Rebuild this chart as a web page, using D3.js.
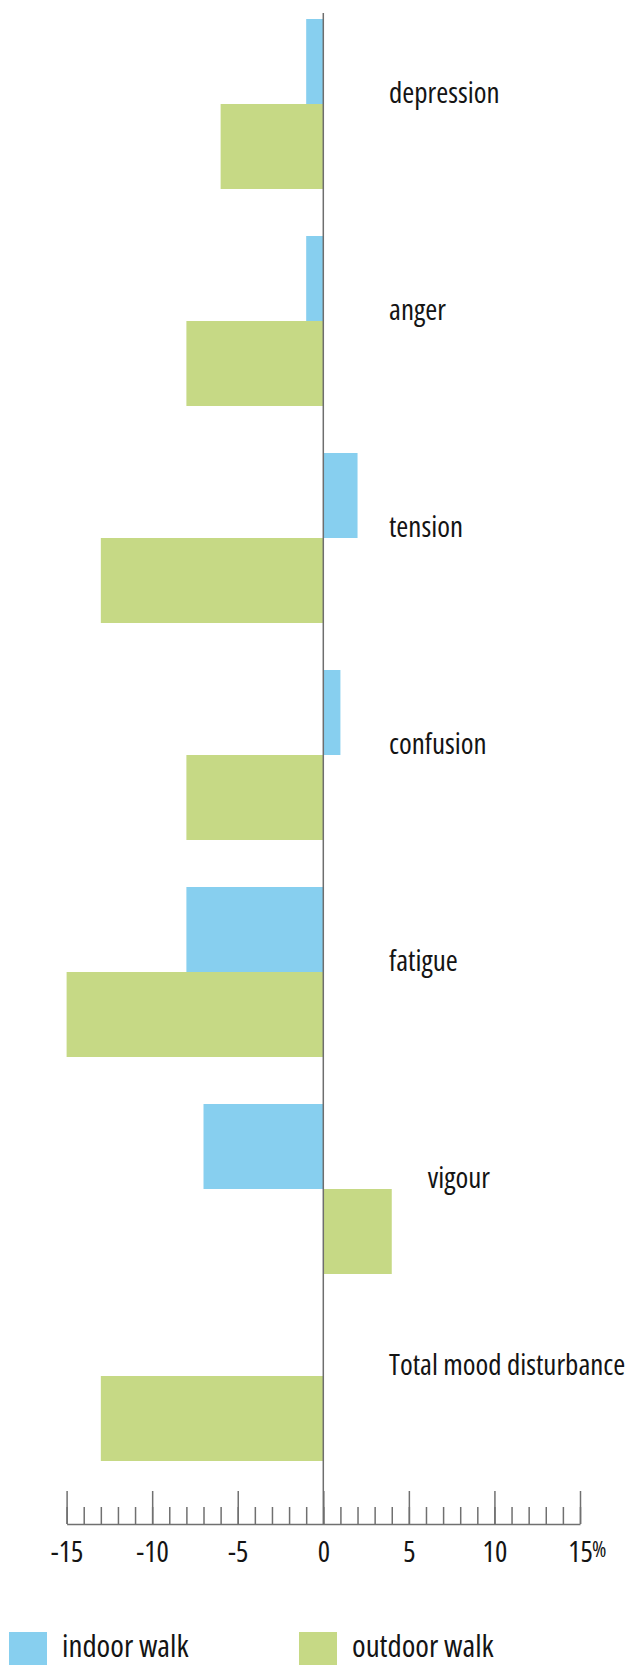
<!DOCTYPE html>
<html>
<head>
<meta charset="utf-8">
<script src="https://cdn.jsdelivr.net/npm/d3@7"></script>
<style>
  body { margin: 0; background: #fff; }
  text { font-family: "Open Sans", sans-serif; font-stretch: condensed; fill: #141414; }
</style>
</head>
<body>
<svg></svg>
<script>
// values (% change)
var categories = ["depression", "anger", "tension", "confusion", "fatigue", "vigour", "Total mood disturbance"];
var indoor  = [-1, -1, 2, 1, -8, -7, 0];
var outdoor = [-6, -8, -13, -8, -15, 4, -13];
var majorTicks = [-15, -10, -5, 0, 5, 10, 15];
var tickLabels = ["-15", "-10", "-5", "0", "5", "10", "15"];
var seriesNames = ["indoor walk", "outdoor walk"];
var seriesColors = ["#87cfef", "#c6d985"];

var width = 641, height = 1665;

var svg = d3.select("svg")
    .attr("width", width)
    .attr("height", height)

var x = d3.scaleLinear()
    .domain([-15, 15])
    .range([66.6, 580])

// groups are 217px apart, the total row sits a bit closer to vigour
var step = 217
var yGroup = d3.scaleOrdinal()
    .domain(categories)
    .range(categories.map(function(c, i) {
        return 19 + i * step - (i == categories.length - 1 ? 30 : 0)
    }))

var inner = d3.scaleBand()
    .domain(seriesNames)
    .range([0, 170])

var rows = categories.map(function(c, i) {
    return {cat: c, values: [indoor[i], outdoor[i]]}
})

var groups = svg.append("g")
    .selectAll("g")
    .data(rows)
    .enter()
    .append("g")
    .attr("transform", function(d) { return "translate(0," + yGroup(d.cat) + ")" })

groups.selectAll("rect")
    .data(function(d) { return d.values.map(function(v, k) { return {v: v, k: k} }) })
    .enter()
    .append("rect")
    .attr("x", function(d) { return Math.min(x(0), x(d.v)) })
    .attr("width", function(d) { return Math.abs(x(d.v) - x(0)) })
    .attr("y", function(d) { return inner(seriesNames[d.k]) })
    .attr("height", inner.bandwidth())
    .style("fill", function(d) { return seriesColors[d.k] })

// category labels sit on the border between the two bars
groups.append("text")
    .attr("x", function(d) {
        var o = d.values[1]
        return o > 0 ? x(o) + 36 : 389
    })
    .attr("y", inner(seriesNames[1]) - 1)
    .style("font-size", "29px")
    .text(function(d) { return d.cat })

// bottom axis
var axisY = 1524
var axisG = svg.append("g").attr("transform", "translate(0," + axisY + ")")

axisG.append("g")
    .call(d3.axisTop(x).tickValues(d3.range(-15, 16)).tickSize(17).tickSizeOuter(0).tickFormat(""))
axisG.append("g")
    .call(d3.axisTop(x).tickValues(majorTicks).tickSize(33).tickSizeOuter(0).tickFormat(""))
    .select(".domain").remove()

axisG.selectAll("line, path")
    .attr("stroke", "#707070")
    .attr("stroke-width", 1.5)

var labelG = axisG.append("g")
    .call(d3.axisBottom(x).tickValues(majorTicks).tickSize(0).tickPadding(17)
        .tickFormat(function(d, i) { return tickLabels[i] }))
labelG.select(".domain").remove()
labelG.attr("font-family", null).attr("font-size", null)
labelG.selectAll("text")
    .attr("fill", "#141414")
    .style("font-size", "29px")

// % after the last label, small and raised
axisG.append("text")
    .attr("x", x(15) + 12)
    .attr("y", 33)
    .style("font-size", "22px")
    .text("%")

// zero line
svg.append("line")
    .attr("x1", x(0)).attr("x2", x(0))
    .attr("y1", 13).attr("y2", axisY)
    .attr("stroke", "#6e6e6e")
    .attr("stroke-width", 1.5)

// legend
var legend = svg.append("g")
    .selectAll("g")
    .data(seriesNames)
    .enter()
    .append("g")
    .attr("transform", function(d, i) { return "translate(" + (9 + i * 290) + ",1632)" })

legend.append("rect")
    .attr("width", 38)
    .attr("height", 38)
    .style("fill", function(d, i) { return seriesColors[i] })

legend.append("text")
    .attr("x", 53)
    .attr("y", 25)
    .style("font-size", "31px")
    .text(function(d) { return d })
</script>
</body>
</html>
